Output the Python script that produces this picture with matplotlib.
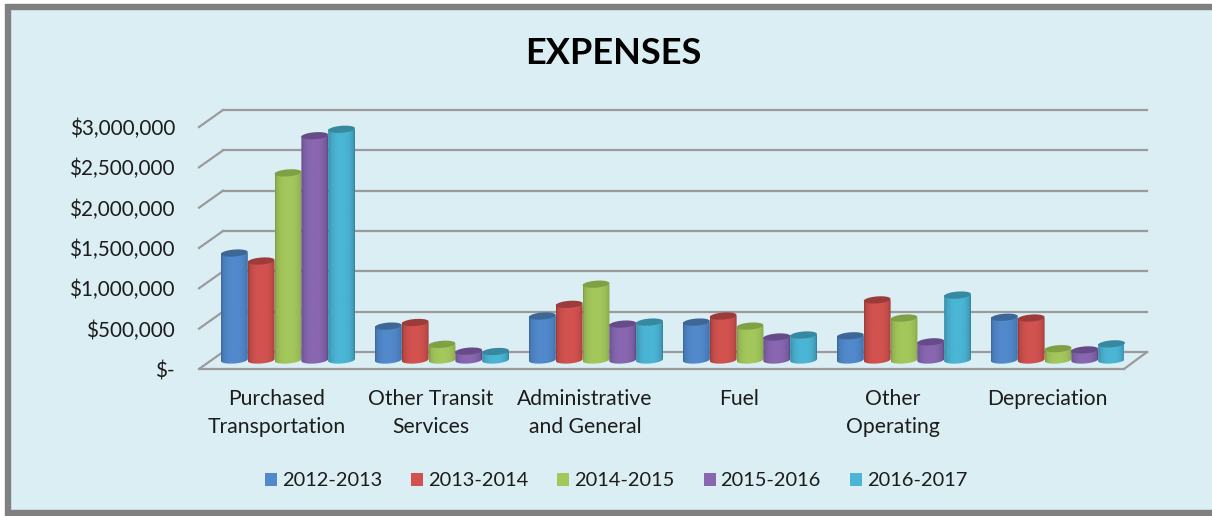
"""
EXPENSES chart, faked 3D cylinders on a plain 2D axes.
"""
import numpy as np
import matplotlib
matplotlib.use('Agg')
import matplotlib.pyplot as plt
from matplotlib.colors import to_rgb
from matplotlib.patches import Polygon, Rectangle
from matplotlib.transforms import Affine2D

categories = ["Purchased\nTransportation", "Other Transit\nServices", "Administrative\nand General",
              "Fuel", "Other\nOperating", "Depreciation"]
years = ["2012-2013", "2013-2014", "2014-2015", "2015-2016", "2016-2017"]
v_2012 = [1326000, 420000, 545000, 470000, 300000, 530000]
v_2013 = [1227000, 465000, 690000, 545000, 745000, 520000]
v_2014 = [2320000, 195000, 940000, 420000, 520000, 140000]
v_2015 = [2780000, 110000, 445000, 285000, 225000, 125000]
v_2016 = [2860000, 105000, 470000, 310000, 805000, 200000]
series = [v_2012, v_2013, v_2014, v_2015, v_2016]
tick_values = [0, 500000, 1000000, 1500000, 2000000, 2500000, 3000000]
tick_labels = ["$-", "$500,000", "$1,000,000", "$1,500,000", "$2,000,000", "$2,500,000", "$3,000,000"]

face_colors = ['#5289cc', '#d2524f', '#a4c75c', '#8867b0', '#4bb5d5']
edge_colors = ['#3b6698', '#963836', '#7c9a42', '#5f4683', '#327f98']
top_colors = ['#3d6796', '#9c3c3a', '#80a044', '#664b88', '#37899f']

W, H = 1212, 516
AX_L, AX_R, AX_B, AX_T = 200, 1124, 369, 127
GRID = '#9b9b9b'
TEXT = '#1c1c1c'
BG = '#dbeef4'

plt.rcParams['font.family'] = ['Lato', 'DejaVu Sans']

fig = plt.figure(figsize=(W / 100, H / 100), dpi=100)
fig.patch.set_facecolor('white')
fig.add_artist(Rectangle((8 / W, 1 - 513 / H), 1.1, 506 / H, transform=fig.transFigure,
                         facecolor=BG, edgecolor='#808080', linewidth=4.6, zorder=-2))

ax = fig.add_axes([AX_L / W, 1 - AX_B / H, (AX_R - AX_L) / W, (AX_B - AX_T) / H])
ax.patch.set_alpha(0)
ax.set_autoscale_on(False)
ax.set_xlim(0, 6)
ax.set_ylim(0, 3000000)
for s in ax.spines.values():
    s.set_visible(False)

# depth planes, offsets in pixels from the front plane
mid = ax.transData + Affine2D().translate(11, 9)
back = ax.transData + Affine2D().translate(23, 17)
px_x = 6 / (AX_R - AX_L)
px_y = 3000000 / (AX_B - AX_T)

# walls
for v in tick_values:
    ax.plot([0, 6], [v, v], color=GRID, lw=1.6, transform=back, clip_on=False, zorder=1)
    x0, y0 = ax.transData.transform((0, v))
    fig.add_artist(plt.Line2D([(x0 - 1) / W, (x0 + 23) / W], [y0 / H, (y0 + 17) / H],
                              color=GRID, lw=1.6, transform=fig.transFigure, zorder=-1))
ax.plot([0, 6], [0, 0], color=GRID, lw=1.6, clip_on=False, zorder=1)
x0, y0 = ax.transData.transform((6, 0))
fig.add_artist(plt.Line2D([x0 / W, (x0 + 23) / W], [y0 / H, (y0 + 17) / H],
                          color=GRID, lw=1.6, transform=fig.transFigure, zorder=-1))


def arc(cx, cy, w, h, t0, t1):
    # ellipse arc, leaning up slightly to the right like the original
    t = np.linspace(t0, t1, 40)
    xs = np.cos(t) * w / 2
    ys = np.sin(t) * h / 2 + xs / w * 2.0 * px_y
    return np.column_stack([cx + xs, cy + ys])


bar_w = 26.8 * px_x
ell_h = 7 * px_y
x_pos = np.arange(6) + 0.5
bars = []
for j, vals in enumerate(series):
    xs = x_pos + (j - 2) * bar_w
    b = ax.bar(xs, vals, bar_w, color=face_colors[j], transform=mid, clip_on=False,
               zorder=3 + j, label=years[j], linewidth=0)
    bars.append(b)
    c0 = np.array(to_rgb(edge_colors[j]))
    c1 = np.array(to_rgb(face_colors[j]))
    p = np.linspace(0, 1, 40)
    k = np.clip(np.sin(np.pi * p) ** 0.4 * 1.05, 0, 1)[None, :, None]
    grad = c0[None, None, :] + (c1 - c0)[None, None, :] * k
    for x, v, rect in zip(xs, vals, b):
        # body with rounded bottom
        lo = arc(x, 0, bar_w, ell_h, np.pi, 2 * np.pi)
        outline = np.vstack([lo, [[x + bar_w / 2, v], [x - bar_w / 2, v]]])
        clip = Polygon(outline, closed=True, transform=mid, facecolor='none', edgecolor='none')
        ax.add_patch(clip)
        clip.set_clip_on(False)
        rect.set_visible(False)
        im = ax.imshow(grad, extent=(x - bar_w / 2, x + bar_w / 2, -ell_h, v + ell_h),
                       aspect='auto', transform=mid, interpolation='bilinear', zorder=3 + j)
        im.set_clip_path(clip)
        top = Polygon(arc(x, v, bar_w, ell_h, 0, 2 * np.pi), closed=True, transform=mid,
                      facecolor=top_colors[j], edgecolor='none', clip_on=False, zorder=3 + j)
        ax.add_patch(top)
ax.set_xlim(0, 6)
ax.set_ylim(0, 3000000)

ax.set_yticks(tick_values)
ax.set_yticklabels(tick_labels, fontsize=14.9, color=TEXT)
ax.set_xticks(x_pos)
ax.set_xticklabels(categories, fontsize=15.2, color=TEXT, linespacing=1.5)
ax.tick_params(axis='y', length=0, pad=18)
ax.tick_params(axis='x', length=0, pad=14.5)

fig.text(613 / W, 1 - 54 / H, "EXPENSES", fontsize=26, fontweight='bold', color='black',
         ha='center', va='center')

handles = [Rectangle((0, 0), 1, 1, facecolor=c) for c in face_colors]
fig.legend(handles, years, loc='center', bbox_to_anchor=(616 / W, 1 - 481 / H), ncol=5,
           frameon=False, fontsize=14.4, labelcolor=TEXT, handlelength=0.6, handleheight=0.6,
           handletextpad=0.25, columnspacing=1.45, borderpad=0)

fig.savefig('out.png', dpi=100, facecolor=fig.get_facecolor())
